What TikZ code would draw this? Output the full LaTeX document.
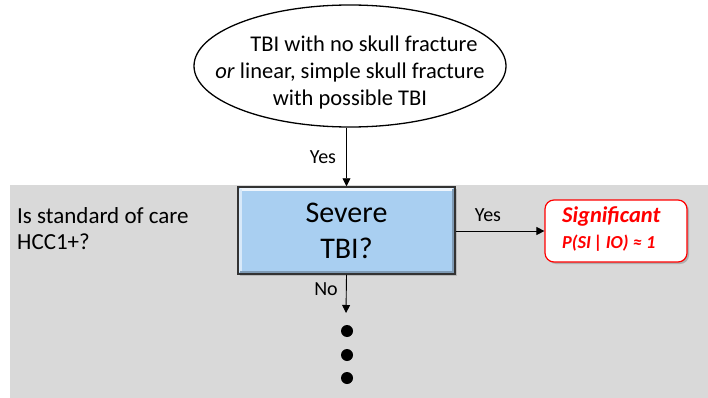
\documentclass[tikz,border=0pt]{standalone}
\usepackage{fontspec}
\setmainfont{Carlito}
\usetikzlibrary{arrows.meta,shapes.geometric,shadows}
\definecolor{band}{HTML}{D9D9D9}
\definecolor{boxblue}{HTML}{A9CFF1}
\definecolor{sigred}{HTML}{FF0000}
\tikzset{
  conn/.style={draw=black, line width=0.9pt, -{Triangle[length=8pt,width=8pt]}},
  lbl/.style={font=\fontsize{20}{24}\selectfont, inner sep=0pt},
  dotmark/.style={circle, fill=black, minimum size=12pt, inner sep=0pt},
}
\begin{document}
\begin{tikzpicture}[x=1pt,y=-1pt]
\useasboundingbox (0,0) rectangle (708,398);
% gray band
\fill[band] (10,185) rectangle (708,398);
% start ellipse
\node[ellipse, draw=black, line width=1.3pt, fill=white, minimum width=312pt, minimum height=122pt, inner sep=0pt] (start) at (350,66) {};
\node[align=center, inner sep=0pt, font=\fontsize{22.5}{27}\selectfont] (starttext) at (350,73)
  {\hspace*{28pt}TBI with no skull fracture\\\textit{or} linear, simple skull fracture\\with possible TBI};
% severe TBI box
\node[rectangle, draw=black!80, line width=1.5pt, fill=boxblue, minimum width=217pt, minimum height=87pt,
  inner sep=0pt, drop shadow={opacity=0.35,shadow xshift=2pt,shadow yshift=-2pt}] (sev) at (346.5,230.5) {};
\draw[white!80!boxblue, line width=2.5pt] ([shift={(3,3)}]sev.north west) -- ([shift={(-3,3)}]sev.north east);
\draw[white!55!boxblue, line width=2.5pt] ([shift={(3,3)}]sev.north west) -- ([shift={(3,-3)}]sev.south west);
\draw[black!25!boxblue, line width=2.5pt] ([shift={(3,-3)}]sev.south west) -- ([shift={(-3,-3)}]sev.south east) -- ([shift={(-3,3)}]sev.north east);
\node[align=center, inner sep=0pt, font=\fontsize{30}{36}\selectfont] (sevtext) at (346.5,231) {Severe\\TBI?};
% significant box
\node[rectangle, rounded corners=9pt, draw=sigred, line width=1.2pt, fill=white, minimum width=142pt, minimum height=62pt,
  inner sep=0pt, drop shadow={opacity=0.45,shadow xshift=2pt,shadow yshift=-2pt}] (sig) at (616,231) {};
\node[anchor=base west, inner sep=0pt, text=sigred, font=\fontsize{22.5}{27}\selectfont\bfseries\itshape] (sigt) at (562,222) {Significant};
\node[anchor=base west, inner sep=0pt, text=sigred, font=\fontsize{18.3}{22}\selectfont\bfseries\itshape] (sigp) at (562,248) {P(SI\,|\,IO) ≈ 1};
% left question
\node[anchor=base west, inner sep=0pt, font=\fontsize{23}{28}\selectfont] (q1) at (17,223) {Is standard of care};
\node[anchor=base west, inner sep=0pt, font=\fontsize{23}{28}\selectfont] (q2) at (17,249) {HCC1+?};
% connectors
\coordinate (ytop) at (start.south -| sev.north);
\draw[conn] (ytop) -- (sev.north);
\node[lbl, anchor=base] (yes1) at (323,164) {Yes};
\coordinate (sevE) at (sev.east |- sig.west);
\draw[conn] (sevE) -- (sig.west);
\node[lbl, anchor=base] (yes2) at (488,221) {Yes};
\coordinate (noend) at (346,313);
\draw[conn] (sev.south) -- (noend);
\node[lbl, anchor=base] (no) at (326,295) {No};
% dots
\node[dotmark] (d1) at (347,331) {};
\node[dotmark] (d2) at (347,355) {};
\node[dotmark] (d3) at (347,378) {};
\end{tikzpicture}
\end{document}
